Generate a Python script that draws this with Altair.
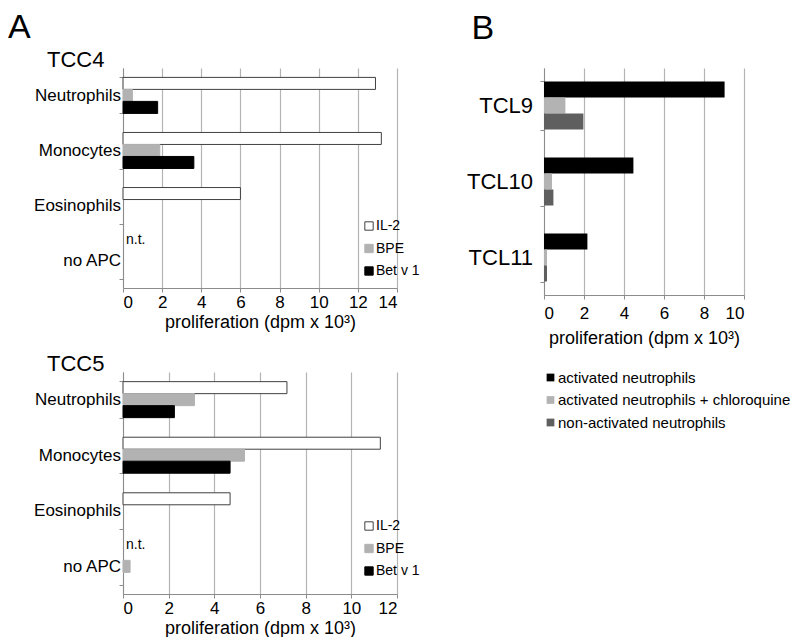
import altair as alt
import pandas as pd

FONT = "Liberation Sans"

# ---------------- data ----------------
cells = ["Neutrophils", "Monocytes", "Eosinophils", "no APC"]
stims = ["IL-2", "BPE", "Bet v 1"]
stim_fill = ["#ffffff", "#b2b2b2", "#000000"]
stim_stroke = ["#404040", "#b2b2b2", "#000000"]

tcc4_cell = ["Neutrophils", "Neutrophils", "Neutrophils",
             "Monocytes", "Monocytes", "Monocytes", "Eosinophils"]
tcc4_stim = ["IL-2", "BPE", "Bet v 1", "IL-2", "BPE", "Bet v 1", "IL-2"]
tcc4_val = [12.9, 0.48, 1.77, 13.2, 1.88, 3.62, 6.0]

tcc5_cell = ["Neutrophils", "Neutrophils", "Neutrophils",
             "Monocytes", "Monocytes", "Monocytes", "Eosinophils", "no APC"]
tcc5_stim = ["IL-2", "BPE", "Bet v 1", "IL-2", "BPE", "Bet v 1", "IL-2", "BPE"]
tcc5_val = [7.18, 3.13, 2.25, 11.27, 5.32, 4.69, 4.69, 0.31]

nt_cell = ["no APC"]
nt_stim = ["IL-2"]
nt_label = ["n.t."]

tcl = ["TCL9", "TCL10", "TCL11"]
conds = ["activated neutrophils", "activated neutrophils + chloroquine",
         "non-activated neutrophils"]
cond_colors = ["#000000", "#b3b3b3", "#5f5f5f"]
activated = [9.03, 4.47, 2.17]
chloroquine = [1.07, 0.40, 0.15]
non_activated = [1.97, 0.47, 0.15]

XTITLE = "proliferation (dpm x 10³)"
AXIS_COL = "#8c8c8c"
GRID_COL = "#b4b4b4"
BAR_A = 12   # bar thickness in panel A (px)
BAR_B = 16   # bar thickness in panel B (px)


def panel_a(cell, stim, val, title, xmax, legend_y, height, title_offset):
    df = pd.DataFrame({"cell": cell, "stim": stim, "value": val})
    nt = pd.DataFrame({"cell": nt_cell, "stim": nt_stim,
                       "value": [0] * len(nt_cell), "label": nt_label})
    y = alt.Y("cell:N", sort=cells,
              scale=alt.Scale(domain=cells, paddingInner=0.345, paddingOuter=0.17),
              axis=alt.Axis(title=None, labelFont=FONT, labelFontSize=17,
                            labelColor="black", tickBand="extent", tickSize=4,
                            labelPadding=-1.5, minExtent=115, grid=False,
                            domainColor=AXIS_COL, tickColor=AXIS_COL))
    x = alt.X("value:Q", scale=alt.Scale(domain=[0, xmax], nice=False),
              axis=alt.Axis(values=list(range(0, xmax + 1, 2)), title=XTITLE,
                            titleFont=FONT, titleFontSize=18, titleFontWeight="normal",
                            titleColor="black", titlePadding=3,
                            labelFont=FONT, labelFontSize=17, labelColor="black",
                            labelPadding=2, labelOverlap=False, tickSize=4, grid=True,
                            gridColor=GRID_COL, gridWidth=1.2,
                            domainColor=AXIS_COL, tickColor=AXIS_COL))
    leg = alt.Legend(title=None, orient="none", legendX=239, legendY=legend_y,
                     direction="vertical", symbolType="square", symbolSize=70,
                     symbolStrokeWidth=1, labelFont=FONT, labelFontSize=14,
                     labelColor="black", rowPadding=8.5, labelOffset=0, padding=0)
    fill = alt.Fill("stim:N", sort=stims,
                    scale=alt.Scale(domain=stims, range=stim_fill), legend=leg)
    stroke = alt.Stroke("stim:N", sort=stims,
                        scale=alt.Scale(domain=stims, range=stim_stroke), legend=leg)
    layers = []
    for i, s in enumerate(stims):
        layers.append(
            alt.Chart(df).transform_filter(alt.datum.stim == s)
            .mark_bar(height=BAR_A, yOffset=(i - 1) * BAR_A, strokeWidth=1)
            .encode(x=x, y=y, fill=fill, stroke=stroke)
        )
    text = alt.Chart(nt).mark_text(align="left", baseline="alphabetic", dx=3,
                                   dy=-BAR_A - 5, font=FONT, fontSize=14,
                                   color="black").encode(x=x, y=y, text="label:N")
    layers.append(text)
    return alt.layer(*layers).properties(
        width=274, height=height,
        title=alt.TitleParams(title, anchor="start", font=FONT, fontSize=22,
                              fontWeight="normal", color="black",
                              offset=title_offset, dx=39))


tcc4 = panel_a(tcc4_cell, tcc4_stim, tcc4_val, "TCC4", 14, 151, 220, -12.6)
tcc5 = panel_a(tcc5_cell, tcc5_stim, tcc5_val, "TCC5", 12, 147, 222, -13)

left = alt.vconcat(tcc4, tcc5, spacing=22).properties(
    title=alt.TitleParams("A", anchor="start", font=FONT, fontSize=34,
                          fontWeight="normal", color="black", offset=4)
).resolve_scale(fill="independent", stroke="independent", x="independent")

# ---------------- panel B ----------------
dfB = pd.DataFrame({
    "tcl": tcl * 3,
    "cond": [c for c in conds for _ in tcl],
    "value": activated + chloroquine + non_activated,
})

xB = alt.X("value:Q", scale=alt.Scale(domain=[0, 10], nice=False),
           axis=alt.Axis(values=list(range(0, 11, 2)), title=XTITLE,
                         titleFont=FONT, titleFontSize=18, titleFontWeight="normal",
                         titleColor="black", titlePadding=8,
                         labelFont=FONT, labelFontSize=17, labelColor="black",
                         labelPadding=6, labelOverlap=False, tickSize=4, grid=True,
                         gridColor=GRID_COL, gridWidth=1.2,
                         domainColor=AXIS_COL, tickColor=AXIS_COL))
yB = alt.Y("tcl:N", sort=tcl,
           scale=alt.Scale(domain=tcl, paddingInner=0.365, paddingOuter=0.176),
           axis=alt.Axis(title=None, labelFont=FONT, labelFontSize=22,
                         labelColor="black", tickBand="extent", tickSize=4,
                         labelPadding=7.5, grid=False,
                         domainColor=AXIS_COL, tickColor=AXIS_COL))
fillB = alt.Fill("cond:N", sort=conds,
                 scale=alt.Scale(domain=conds, range=cond_colors),
                 legend=alt.Legend(title=None, orient="none", legendX=-1, legendY=302,
                                   direction="vertical", symbolType="square",
                                   symbolSize=60, symbolStrokeWidth=0,
                                   labelFont=FONT, labelFontSize=15, labelColor="black",
                                   labelLimit=400,
                                   rowPadding=6.5, labelOffset=0, padding=0))
layersB = []
for i, c in enumerate(conds):
    layersB.append(
        alt.Chart(dfB).transform_filter(alt.datum.cond == c)
        .mark_bar(height=BAR_B, yOffset=(i - 1) * BAR_B)
        .encode(x=xB, y=yB, fill=fillB)
    )

panel_b = alt.layer(*layersB).properties(
    width=200, height=227,
    title=alt.TitleParams("B", anchor="start", font=FONT, fontSize=34,
                          fontWeight="normal", color="black", offset=11, dx=5))

chart = alt.hconcat(left, panel_b, spacing=46).resolve_scale(
    fill="independent", stroke="independent", x="independent", y="independent"
).properties(
    padding={"left": 0, "top": 2, "right": 0, "bottom": 0},
    background="white",
).configure_view(stroke=None)

chart.save("out.html", embed_options={"renderer": "svg", "actions": False})
